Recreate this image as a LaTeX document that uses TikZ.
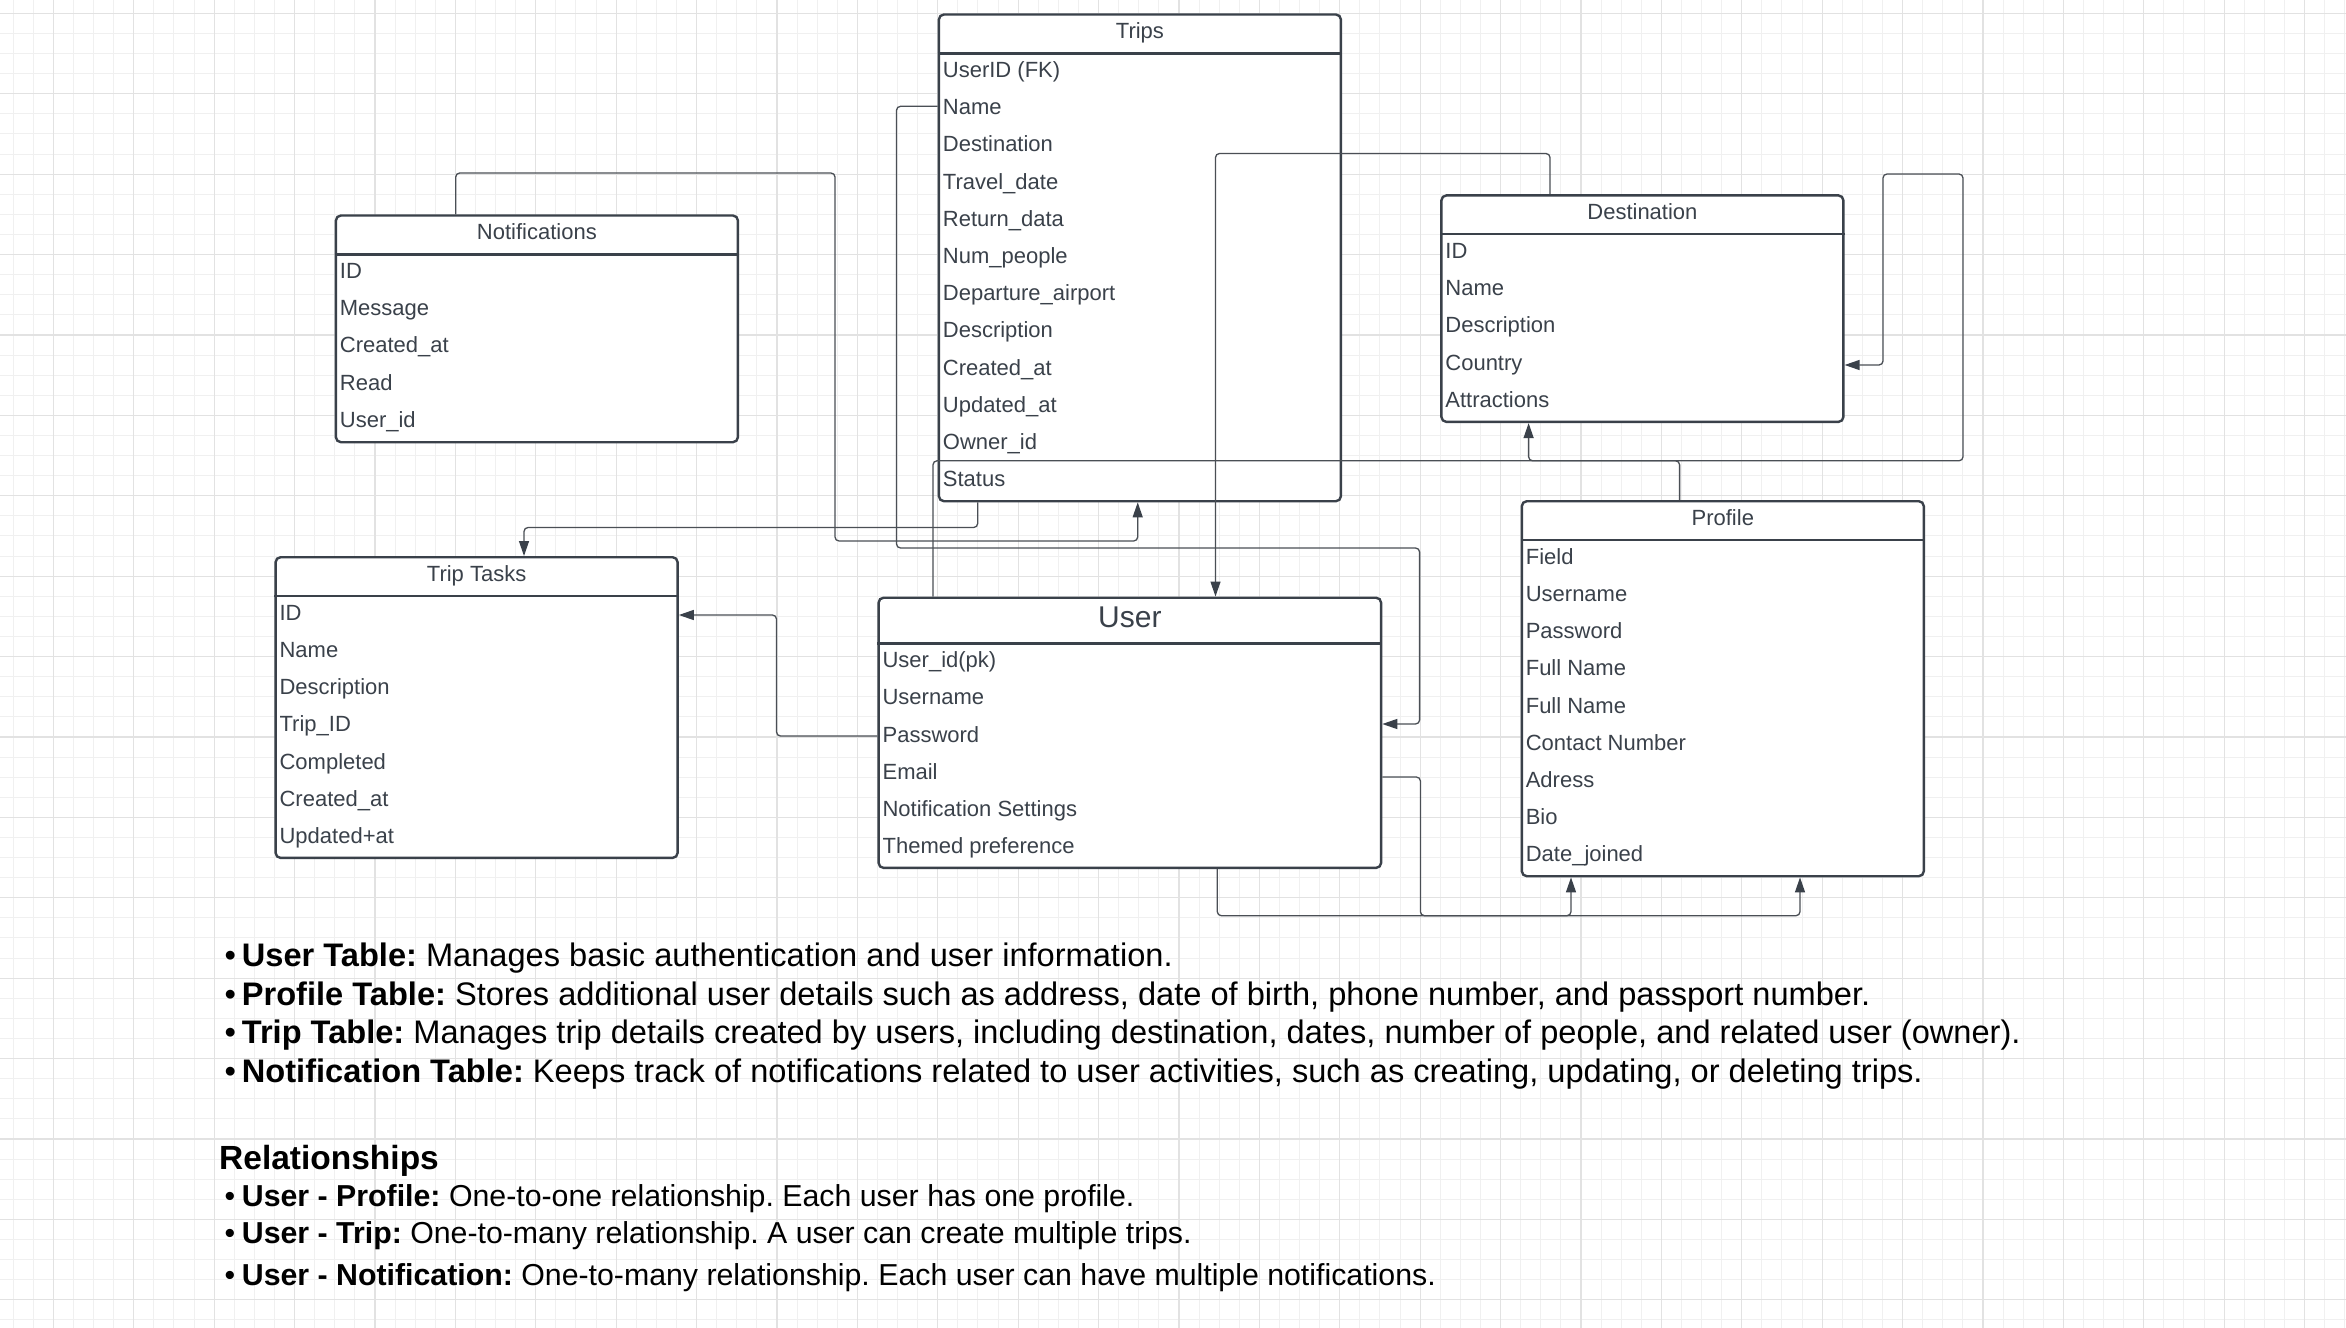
\documentclass[tikz,border=0pt]{standalone}
\usepackage{fontspec}
\setmainfont{Liberation Sans}
\usetikzlibrary{arrows.meta,calc}
\definecolor{ink}{HTML}{3A414A}
\definecolor{gridminor}{HTML}{F0F0F0}
\definecolor{gridmajor}{HTML}{E2E2E2}
\definecolor{wire}{HTML}{4A4F55}
\frenchspacing
\begin{document}
\begin{tikzpicture}[x=1pt,y=-1pt,
  tbl/.style={draw=ink, line width=2.4pt, fill=white, rounded corners=5pt, anchor=north west, inner sep=0pt, minimum width=402pt},
  sepline/.style={draw=ink, line width=2.4pt},
  hdr/.style={text=ink, font=\fontsize{22}{26}\selectfont, inner sep=0pt, anchor=base},
  rowtxt/.style={text=ink, font=\fontsize{22}{26}\selectfont, inner sep=0pt, anchor=base west},
  conn/.style={draw=wire, line width=1.3pt, rounded corners=4pt},
  arr/.style={conn, -{Triangle[length=15pt,width=10pt,fill=ink,color=ink]}},
  note/.style={font=\fontsize{32.6}{38}\selectfont\frenchspacing, inner sep=0pt, anchor=base west, text=black},
  relnote/.style={note, font=\fontsize{30.3}{36}\selectfont\frenchspacing},
]
\useasboundingbox (0,0) rectangle (2346,1328);
\fill[white] (0,0) rectangle (2346,1328);
% grid
\foreach \i in {0,...,116} \draw[gridminor, line width=1pt] ({13.1+20.1*\i},0) -- ({13.1+20.1*\i},1328);
\foreach \i in {0,...,65} \draw[gridminor, line width=1pt] (0,{13.3+20.1*\i}) -- (2346,{13.3+20.1*\i});
\foreach \i in {0,...,28} \draw[gridmajor, line width=1.2pt] ({53.3+80.4*\i},0) -- ({53.3+80.4*\i},1328);
\foreach \i in {0,...,16} \draw[gridmajor, line width=1.2pt] (0,{13.3+80.4*\i}) -- (2346,{13.3+80.4*\i});

% ---- Trips
\node[tbl, minimum height=486.7pt] (trips) at (937.7,13.3) {};
\draw[sepline] ([yshift=-40pt]trips.north west) -- ([yshift=-40pt]trips.north east);
\node[hdr] (trips-h) at ([yshift=-25pt]trips.north) {Trips};
\foreach \t [count=\i from 0] in {UserID (FK),Name,Destination,Travel\_date,Return\_data,Num\_people,Departure\_airport,Description,Created\_at,Updated\_at,Owner\_id,Status}
  \node[rowtxt] (trips-\i) at ([xshift=5pt,yshift={-(64.2+37.2*\i)}]trips.north west) {\t};

% ---- Notifications
\node[tbl, minimum height=226.7pt] (notif) at (334.7,214.3) {};
\draw[sepline] ([yshift=-40pt]notif.north west) -- ([yshift=-40pt]notif.north east);
\node[hdr] (notif-h) at ([yshift=-25pt]notif.north) {Notifications};
\foreach \t [count=\i from 0] in {ID,Message,Created\_at,Read,User\_id}
  \node[rowtxt] (notif-\i) at ([xshift=5pt,yshift={-(64.2+37.2*\i)}]notif.north west) {\t};

% ---- Destination
\node[tbl, minimum height=226.5pt] (dest) at (1440.2,194.2) {};
\draw[sepline] ([yshift=-40pt]dest.north west) -- ([yshift=-40pt]dest.north east);
\node[hdr] (dest-h) at ([yshift=-25pt]dest.north) {Destination};
\foreach \t [count=\i from 0] in {ID,Name,Description,Country,Attractions}
  \node[rowtxt] (dest-\i) at ([xshift=5pt,yshift={-(64.2+37.2*\i)}]dest.north west) {\t};

% ---- Trip Tasks
\node[tbl, minimum height=300.7pt] (tasks) at (274.4,556) {};
\draw[sepline] ([yshift=-40pt]tasks.north west) -- ([yshift=-40pt]tasks.north east);
\node[hdr] (tasks-h) at ([yshift=-25pt]tasks.north) {Trip Tasks};
\foreach \t [count=\i from 0] in {ID,Name,Description,Trip\_ID,Completed,Created\_at,Updated+at}
  \node[rowtxt] (tasks-\i) at ([xshift=5pt,yshift={-(64.2+37.2*\i)}]tasks.north west) {\t};

% ---- User
\node[tbl, minimum width=502.5pt, minimum height=270.2pt] (user) at (877.4,596.5) {};
\draw[sepline] ([yshift=-47pt]user.north west) -- ([yshift=-47pt]user.north east);
\node[hdr, font=\fontsize{30}{34}\selectfont] (user-h) at ([yshift=-30.5pt]user.north) {User};
\foreach \t [count=\i from 0] in {User\_id(pk),Username,Password,Email,Notification Settings,Themed preference}
  \node[rowtxt] (user-\i) at ([xshift=5pt,yshift={-(71.2+37.2*\i)}]user.north west) {\t};

% ---- Profile
\node[tbl, minimum height=375pt] (profile) at (1520.6,500) {};
\draw[sepline] ([yshift=-40pt]profile.north west) -- ([yshift=-40pt]profile.north east);
\node[hdr] (profile-h) at ([yshift=-25pt]profile.north) {Profile};
\foreach \t [count=\i from 0] in {Field,Username,Password,Full Name,Full Name,Contact Number,Adress,Bio,Date\_joined}
  \node[rowtxt] (profile-\i) at ([xshift=5pt,yshift={-(64.2+37.2*\i)}]profile.north west) {\t};

% ---- connectors
% Notifications -> Trips
\draw[arr] ([xshift=121pt]notif.north west) |- (835,173) |- (1137.7,541) -- ([xshift=200pt]trips.south west);
% Trips -> Trip Tasks
\draw[arr] ([xshift=40pt]trips.south west) |- (524,527.5) -- ([xshift=249.6pt]tasks.north west);
% Trips.Name -> User
\draw[arr] ([yshift=-93pt]trips.north west) -| (896.5,548) -| (1419.6,724) -- ([yshift=-127.5pt]user.north east);
% User -> Destination.Country
\draw[arr] ([xshift=55.6pt]user.north west) |- (1963,460.8) |- (1883,174) |- ([yshift=-170.8pt]dest.north east);
% Destination -> User
\draw[arr] ([xshift=109.8pt]dest.north west) |- (1215.5,153.5) -- ([xshift=338.1pt]user.north west);
% Profile -> Destination
\draw[arr] ([xshift=159pt]profile.north west) |- (1528.6,460.8) -- ([xshift=88.4pt]dest.south west);
% User.Password -> Trip Tasks
\draw[arr] ([yshift=-139.5pt]user.north west) -| (776.5,615) -- ([yshift=-59pt]tasks.north east);
% User -> Profile (bottom)
\draw[arr] ([xshift=339.9pt]user.south west) |- (1571,915.7) -- ([xshift=50.4pt]profile.south west);
% User (right) -> Profile
\draw[arr] ([yshift=-180.5pt]user.north east) -| (1420.4,915.7) -| ([xshift=279.4pt]profile.south west);

% ---- notes
\node[note] (n1) at (224.5,966.7) {\makebox[17.2pt][l]{•}\textbf{User Table:} Manages basic authentication and user information.};
\node[note] (n2) at (224.5,1005) {\makebox[17.2pt][l]{•}\textbf{Profile Table:} Stores additional user details such as address, date of birth, phone number, and passport number.};
\node[note] (n3) at (224.5,1043.5) {\makebox[17.2pt][l]{•}\textbf{Trip Table:} Manages trip details created by users, including destination, dates, number of people, and related user (owner).};
\node[note] (n4) at (224.5,1082) {\makebox[17.2pt][l]{•}\textbf{Notification Table:} Keeps track of notifications related to user activities, such as creating, updating, or deleting trips.};
\node[note, font=\fontsize{33.5}{40}\selectfont\bfseries] (rel) at (219,1169.3) {Relationships};
\node[relnote] (r1) at (224.5,1206.7) {\makebox[17.2pt][l]{•}\textbf{User - Profile:} One-to-one relationship. Each user has one profile.};
\node[relnote] (r2) at (224.5,1243.3) {\makebox[17.2pt][l]{•}\textbf{User - Trip:} One-to-many relationship. A user can create multiple trips.};
\node[relnote] (r3) at (224.5,1285.7) {\makebox[17.2pt][l]{•}\textbf{User - Notification:} One-to-many relationship. Each user can have multiple notifications.};
\end{tikzpicture}
\end{document}
